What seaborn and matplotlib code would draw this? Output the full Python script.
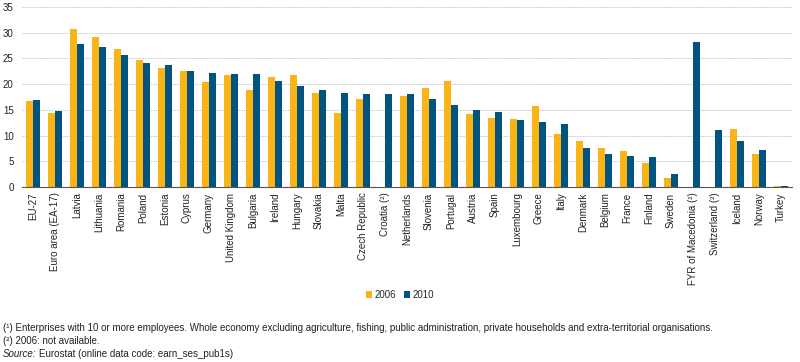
import matplotlib
matplotlib.use('Agg')
import matplotlib.pyplot as plt
import seaborn as sns
import numpy as np
import pandas as pd

countries = ['EU-27', 'Euro area (EA-17)', 'Latvia', 'Lithuania', 'Romania', 'Poland',
             'Estonia', 'Cyprus', 'Germany', 'United Kingdom', 'Bulgaria', 'Ireland',
             'Hungary', 'Slovakia', 'Malta', 'Czech Republic', 'Croatia (\u00b2)',
             'Netherlands', 'Slovenia', 'Portugal', 'Austria', 'Spain', 'Luxembourg',
             'Greece', 'Italy', 'Denmark', 'Belgium', 'France', 'Finland', 'Sweden',
             'FYR of Macedonia (\u00b2)', 'Switzerland (\u00b2)', 'Iceland', 'Norway', 'Turkey']

vals_2006 = [16.8, 14.3, 30.8, 29.2, 26.8, 24.7, 23.1, 22.6, 20.4, 21.7, 18.9, 21.4,
             21.8, 18.3, 14.3, 17.1, np.nan, 17.7, 19.2, 20.6, 14.1, 13.4, 13.2,
             15.7, 10.3, 8.9, 7.5, 7.0, 4.7, 1.7, np.nan, np.nan, 11.2, 6.4, 0.2]
vals_2010 = [16.9, 14.8, 27.8, 27.3, 25.6, 24.2, 23.7, 22.6, 22.2, 22.0, 22.0, 20.6,
             19.6, 18.9, 18.3, 18.1, 18.1, 18.1, 17.1, 15.9, 14.9, 14.6, 13.0,
             12.7, 12.2, 7.6, 6.4, 6.0, 5.8, 2.5, 28.1, 11.0, 8.9, 7.1, 0.2]

years = ['2006', '2010']
colors = ['#FAB416', '#01547F']

df = pd.DataFrame({
    'country': countries * 2,
    'year': [years[0]] * len(countries) + [years[1]] * len(countries),
    'value': vals_2006 + vals_2010,
})

sns.set_style('white')
plt.rcParams['font.family'] = ['Liberation Sans', 'DejaVu Sans']

fig = plt.figure(figsize=(8, 3.62), dpi=100)
ax = fig.add_axes([0.0275, 0.4834, 0.9625, 0.4973])

sns.barplot(data=df, x='country', y='value', hue='year', palette=colors,
            width=0.62, saturation=1, errorbar=None, ax=ax, legend=True,
            linewidth=0)

ax.set_xlim(-0.5, len(countries) - 0.5)
ax.set_ylim(0, 35)
ax.set_yticks(range(0, 36, 5))
ax.yaxis.grid(True, color='#CFCFCF', linestyle=(0, (2, 1)), linewidth=0.7)
ax.set_axisbelow(True)
ax.set_xlabel('')
ax.set_ylabel('')

for s in ['top', 'right', 'left']:
    ax.spines[s].set_visible(False)
ax.spines['bottom'].set_color('#555555')
ax.spines['bottom'].set_linewidth(0.8)

ax.set_xticks(range(len(countries)))
ax.set_xticklabels(countries, rotation=90, fontsize=7, color='#222222')
ax.set_xticks(np.arange(-0.5, len(countries), 1), minor=True)
ax.tick_params(axis='x', which='major', length=0, pad=4)
ax.tick_params(axis='x', which='minor', length=4, color='#555555', width=0.8)
ax.tick_params(axis='y', labelsize=7, length=0, pad=6, labelcolor='#222222')

handles, labels = ax.get_legend_handles_labels()
ax.legend_.remove()
fig.legend(handles, labels, loc='center', bbox_to_anchor=(0.5, 1 - 295 / 362),
           ncol=2, frameon=False, fontsize=7, handlelength=0.6, handleheight=0.6,
           handletextpad=0.3, columnspacing=0.8)

fs = 7
fig.text(0.004, 1 - 328 / 362,
         '(\u00b9) Enterprises with 10 or more employees. Whole economy excluding agriculture, '
         'fishing, public administration, private households and extra-territorial organisations.',
         fontsize=fs, va='center', color='#222222')
fig.text(0.004, 1 - 341 / 362, '(\u00b2) 2006: not available.', fontsize=fs,
         va='center', color='#222222')
fig.text(0.004, 1 - 354 / 362, 'Source:', fontsize=fs, va='center', style='italic',
         color='#222222')
fig.text(0.049, 1 - 354 / 362, 'Eurostat (online data code: earn_ses_pub1s)',
         fontsize=fs, va='center', color='#222222')

fig.savefig('out.png', dpi=100)
